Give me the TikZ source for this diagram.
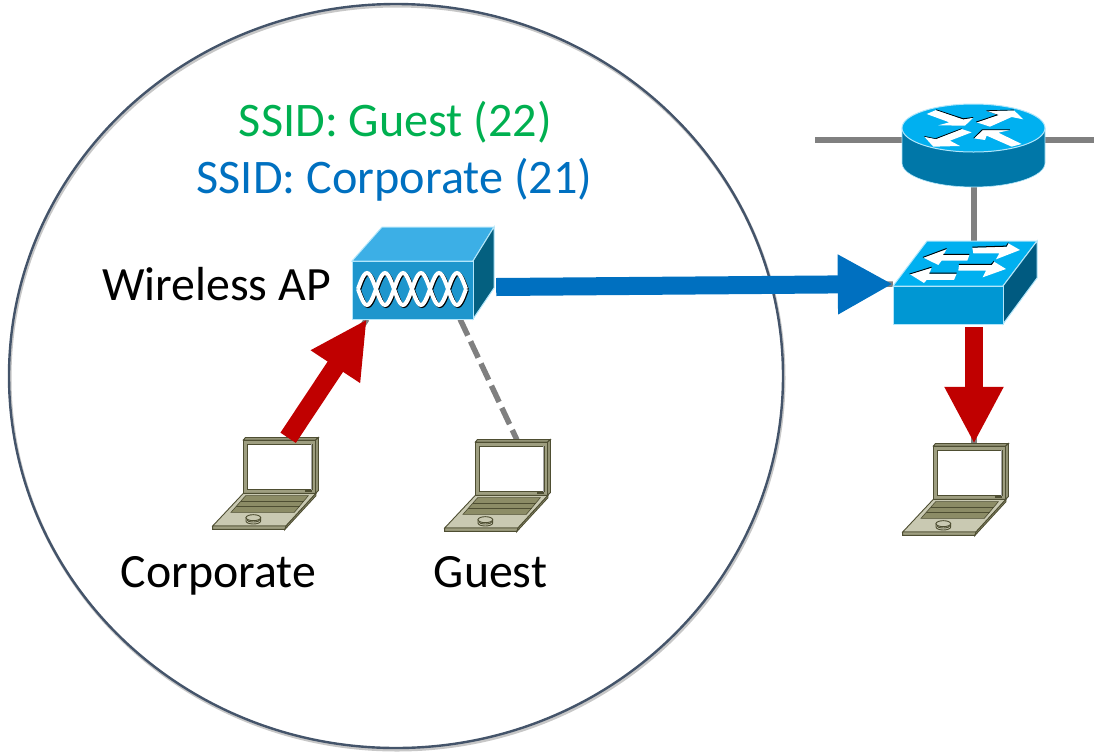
\documentclass[tikz,border=0pt]{standalone}
\usepackage{fontspec}
\setmainfont{Carlito}
\usetikzlibrary{arrows.meta,calc}
\definecolor{ringc}{HTML}{44546A}
\definecolor{ssidg}{HTML}{00B050}
\definecolor{ssidb}{HTML}{0070C0}
\definecolor{flowb}{HTML}{0070C0}
\definecolor{flowr}{HTML}{C00000}
\definecolor{lnk}{HTML}{808080}
\definecolor{lapA}{HTML}{9E9E80}
\definecolor{lapB}{HTML}{C9C9B2}
\definecolor{lapC}{HTML}{8C8C66}
\definecolor{lapL}{HTML}{4E4E32}
\tikzset{
  lbl/.style={font=\fontsize{47.8}{57}\selectfont,inner sep=0pt,anchor=base},
  ssid/.style={font=\fontsize{48.2}{57}\selectfont,inner sep=0pt,anchor=base},
  pt/.style={inner sep=0pt,minimum size=0pt},
  wire/.style={draw=lnk,line width=5.5pt},
  dashwire/.style={draw=lnk,line width=5.5pt,dash pattern=on 18pt off 6.5pt},
  bluearrow/.style={draw=flowb,line width=18pt,-{Triangle[length=55pt,width=56pt]}},
  redarrow/.style={draw=flowr,line width=18.5pt,-{Triangle[length=57pt,width=55pt]}},
  warrow/.style={fill=white,draw=none},
  lapline/.style={draw=lapL,line width=.9pt},
  pics/laptop/.style={code={
    \begin{scope}[x=.3333pt,y=-.3333pt]
      \filldraw[lapline,fill=lapA] (130,45)--(136,38)--(355,38)--(347,45)--cycle;
      \filldraw[lapline,fill=lapA] (347,45)--(355,38)--(355,197)--(347,205)--cycle;
      \filldraw[lapline,fill=lapA] (130,45) rectangle (347,205);
      \filldraw[draw=lapL,fill=white,line width=.7pt] (141,57) rectangle (337,194);
      \fill[lnk!70] (333,57) rectangle (337,194);
      \fill[lapL] (315,194) rectangle (337,200);
      \filldraw[lapline,fill=lapB] (38,303)--(130,205)--(348,205)--(258,303)--cycle;
      \filldraw[lapline,fill=lapA] (38,303)--(258,303)--(255,313)--(38,313)--cycle;
      \filldraw[lapline,fill=lapA] (258,303)--(348,205)--(348,212)--(255,313)--cycle;
      \filldraw[draw=lapL,fill=lapC,line width=.6pt] (93,262)--(137,212)--(325,212)--(283,262)--cycle;
      \draw[lapL,line width=.6pt] (109,245)--(299,245) (124,228)--(312,228);
      \filldraw[lapline,fill=lapB] (138,278)--(138,288) arc[start angle=180,end angle=0,x radius=22,y radius=9]--(182,278)--cycle;
      \filldraw[lapline,fill=lapB] (160,278) ellipse (22 and 9);
      \draw[lapline] (140,284) arc[start angle=180,end angle=0,x radius=20,y radius=7];
    \end{scope}
  }},
}
\begin{document}
\begin{tikzpicture}[x=1pt,y=-1pt]
\useasboundingbox (0,0) rectangle (1094,753);
% coverage ring
\draw[black!22,line width=3pt] (397,378) ellipse (387 and 372);
\draw[ringc,line width=2.4pt] (396,376) ellipse (387 and 372);

% anchor points
\node[pt] (apE) at (496,287) {};
\node[pt] (apS) at (367,319) {};
\node[pt] (apD) at (460,319) {};
\node[pt] (swW) at (893,284) {};
\node[pt] (swN) at (974,242) {};
\node[pt] (swS) at (974,327) {};
\node[pt] (rtS) at (974,186) {};
\node[pt] (rtW) at (902,140) {};
\node[pt] (rtE) at (1045,140) {};
\node[pt] (wanW) at (815,140) {};
\node[pt] (wanE) at (1094,140) {};
\node[pt] (lapAn) at (288,438) {};
\node[pt] (lapBn) at (517,440) {};
\node[pt] (lapCn) at (974,444) {};

% links under the flows
\draw[wire] (wanW) -- (rtW);
\draw[wire] (rtE) -- (wanE);
\draw[wire] (rtS) -- (swN);
\draw[wire] (apE) -- (swW);
\draw[wire] (lapAn) -- (apS);
\draw[wire] (swS) -- (lapCn);
\draw[dashwire] (apD) -- (lapBn);

% laptops
\pic at (200,425) {laptop};
\pic at (432,427) {laptop};
\pic at (890,431) {laptop};

% flows
\draw[bluearrow] (apE) -- (swW);
\draw[redarrow] (lapAn) -- (apS);
\draw[redarrow] (swS) -- (lapCn);

% access point
\filldraw[draw=cyan!30!white,line width=1pt,fill={rgb,255:red,60;green,175;blue,230}] (352,261)--(382,227)--(494,227)--(473,261)--cycle;
\filldraw[draw=cyan!30!white,line width=1pt,fill={rgb,255:red,4;green,96;blue,128}] (473,261)--(494,227)--(494,288)--(473,319)--cycle;
\filldraw[draw=cyan!30!white,line width=1pt,fill={rgb,255:red,30;green,150;blue,205}] (352,261) rectangle (473,319);
\foreach \s in {1,-1}{
  \draw[black,line width=4pt,smooth,samples=73,domain=358:466,xshift=1pt,yshift=-1pt]
    plot (\x,{289+\s*16*sin(10*(\x-358))});
}
\foreach \s in {1,-1}{
  \draw[white,line width=4pt,smooth,samples=73,domain=358:466]
    plot (\x,{289+\s*16*sin(10*(\x-358))});
}

% router
\filldraw[draw=cyan!30!white,line width=.6pt,fill={rgb,255:red,0;green,119;blue,168}] (902,128)--(902,163) arc[start angle=180,end angle=0,x radius=71.5,y radius=24]--(1045,128)--cycle;
\filldraw[draw=cyan!30!white,line width=1pt,fill={rgb,255:red,0;green,176;blue,240}] (973.5,128) ellipse (71.5 and 24);
\begin{scope}[shift={(810,95)},x=.3333pt,y=-.3333pt]
  \fill[warrow] (350,57)--(378,45)--(460,73)--(490,68)--(465,92)--(385,91)--(418,82)--cycle;
  \fill[black] (378,45)--(460,73)--(490,68)--(490,66)--(460,70)--(378,43)--cycle;
  \fill[warrow] (500,82)--(565,60)--(530,48)--(612,46)--(640,73)--(605,66)--(540,95)--cycle;
  \fill[black] (500,82)--(565,60)--(530,48)--(612,46)--(612,44)--(528,46)--(560,59)--(498,80)--cycle;
  \fill[warrow] (343,125)--(378,132)--(455,102)--(485,112)--(420,137)--(450,153)--(370,155)--cycle;
  \fill[black] (343,125)--(378,132)--(455,102)--(455,100)--(376,130)--(343,123)--cycle;
  \fill[warrow] (492,130)--(518,105)--(600,105)--(565,113)--(635,147)--(605,155)--(530,122)--(525,135)--cycle;
  \fill[black] (492,130)--(518,105)--(600,105)--(600,103)--(516,103)--(490,129)--cycle;
\end{scope}

% switch
\filldraw[draw=cyan!30!white,line width=1pt,fill={rgb,255:red,0;green,176;blue,240}] (893,286)--(927,241)--(1037,241)--(1003,286)--cycle;
\filldraw[draw=cyan!30!white,line width=1pt,fill={rgb,255:red,0;green,90;blue,128}] (1003,286)--(1037,241)--(1037,278)--(1003,324)--cycle;
\filldraw[draw=cyan!30!white,line width=1pt,fill={rgb,255:red,0;green,151;blue,211}] (893,286) rectangle (1003,324);
\begin{scope}[shift={(810,95)},x=.3333pt,y=-.3333pt]
  \fill[warrow] (340,488)--(410,462)--(400,480)--(478,480)--(472,497)--(395,497)--(385,510)--cycle;
  \fill[black] (340,488)--(410,462)--(410,459)--(338,486)--cycle (400,480)--(478,480)--(478,477)--(400,477)--cycle;
  \fill[warrow] (300,538)--(365,518)--(358,536)--(440,536)--(432,555)--(350,555)--(342,564)--cycle;
  \fill[black] (300,538)--(365,518)--(365,515)--(298,536)--cycle (358,536)--(440,536)--(440,533)--(358,533)--cycle;
  \fill[warrow] (487,458)--(590,455)--(595,445)--(630,465)--(558,493)--(568,475)--(490,475)--cycle;
  \fill[black] (487,458)--(590,455)--(595,445)--(595,442)--(588,452)--(487,455)--cycle;
  \fill[warrow] (447,510)--(545,510)--(552,500)--(588,522)--(518,547)--(528,527)--(445,527)--cycle;
  \fill[black] (447,510)--(545,510)--(552,500)--(552,497)--(543,507)--(447,507)--cycle;
\end{scope}

% labels
\node[ssid,text=ssidg] (ssidguest) at (395.5,136) {SSID: Guest (22)};
\node[ssid,text=ssidb] (ssidcorp) at (394.5,193) {SSID: Corporate (21)};
\node[lbl] (aplabel) at (216.5,300.5) {Wireless AP};
\node[lbl] (corplabel) at (218.5,587) {Corporate};
\node[lbl] (guestlabel) at (490.5,587) {Guest};
\end{tikzpicture}
\end{document}
